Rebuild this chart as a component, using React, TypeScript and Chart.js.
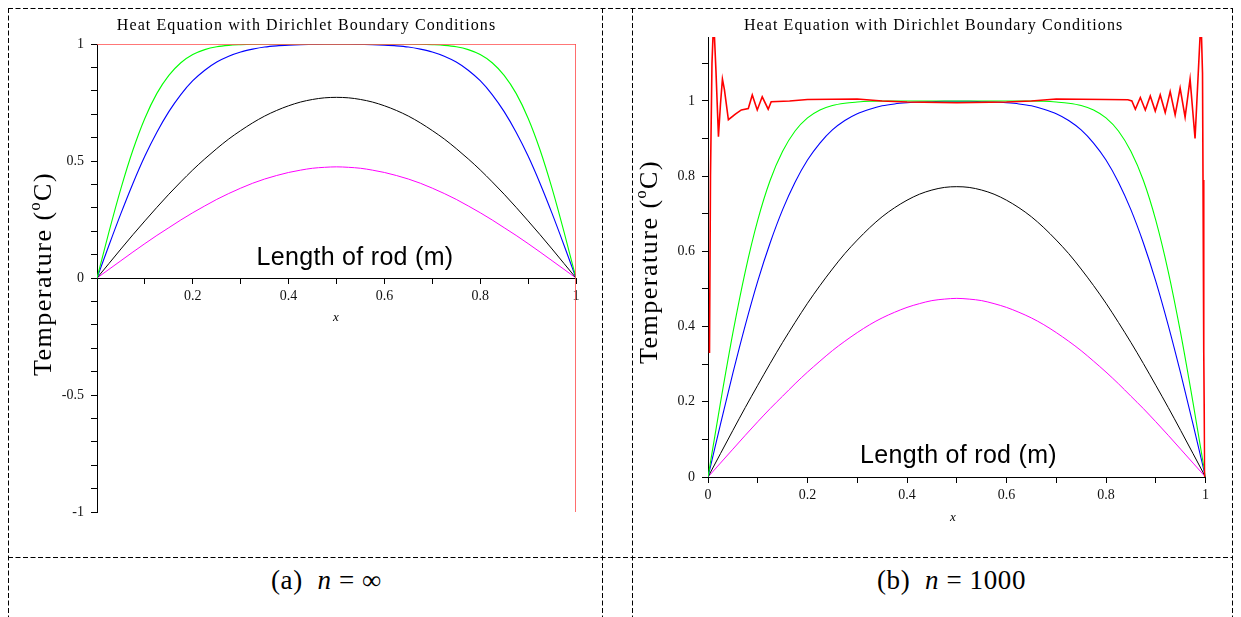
import React, { useEffect, useRef } from "react";
import { Chart, registerables } from "chart.js";

Chart.register(...registerables);

// ---------- data ----------
const TITLE = "Heat Equation with Dirichlet Boundary Conditions";
const Y_TITLE_PARTS = ["Temperature (", "o", "C)"];
const INNER_LABEL = "Length of rod (m)";
const X_AXIS_LABEL = "x";

const X_GRID = [
  0, 0.025, 0.05, 0.075, 0.1, 0.125, 0.15, 0.175, 0.2, 0.225, 0.25, 0.275, 0.3, 0.325, 0.35, 0.375, 0.4,
  0.425, 0.45, 0.475, 0.5, 0.525, 0.55, 0.575, 0.6, 0.625, 0.65, 0.675, 0.7, 0.725, 0.75, 0.775, 0.8,
  0.825, 0.85, 0.875, 0.9, 0.925, 0.95, 0.975, 1,
];
const GREEN_T = [
  0, 0.197, 0.383, 0.547, 0.683, 0.789, 0.866, 0.92, 0.955, 0.976, 0.988, 0.994, 0.997, 0.999,
  1, 1, 1, 1, 1, 1, 1, 1, 1, 1, 1, 1, 1,
  0.999, 0.997, 0.994, 0.988, 0.976, 0.955, 0.92, 0.866, 0.789, 0.683, 0.547, 0.383, 0.197, 0,
];
const BLUE_T = [
  0, 0.14, 0.276, 0.404, 0.521, 0.623, 0.711, 0.784, 0.843, 0.888, 0.923, 0.948, 0.966, 0.978, 0.987,
  0.992, 0.995, 0.997, 0.998, 0.999, 0.999, 0.999, 0.998, 0.997, 0.995, 0.992, 0.987, 0.978, 0.966,
  0.948, 0.923, 0.888, 0.843, 0.784, 0.711, 0.623, 0.521, 0.404, 0.276, 0.14, 0,
];
const BLACK_T = [
  0, 0.062, 0.124, 0.185, 0.244, 0.302, 0.358, 0.411, 0.462, 0.509, 0.553, 0.594, 0.63, 0.663, 0.692,
  0.716, 0.736, 0.752, 0.763, 0.77, 0.772, 0.77, 0.763, 0.752, 0.736, 0.716, 0.692, 0.663, 0.63, 0.594,
  0.553, 0.509, 0.462, 0.411, 0.358, 0.302, 0.244, 0.185, 0.124, 0.062, 0,
];
const MAGENTA_T = [
  0, 0.037, 0.074, 0.111, 0.147, 0.182, 0.215, 0.248, 0.279, 0.308, 0.336, 0.361, 0.384, 0.405, 0.423,
  0.438, 0.451, 0.461, 0.469, 0.473, 0.475, 0.473, 0.469, 0.461, 0.451, 0.438, 0.423, 0.405, 0.384,
  0.361, 0.336, 0.308, 0.279, 0.248, 0.215, 0.182, 0.147, 0.111, 0.074, 0.037, 0,
];

// initial condition, n = infinity
const RED_INF_X = [0, 1, 1];
const RED_INF_Y = [1, 1, -1];

// initial condition, n = 1000 (as plotted)
const RED_N1000_X = [
  0.003, 0.005, 0.008, 0.01, 0.013, 0.016, 0.021, 0.025, 0.029, 0.033, 0.041, 0.055, 0.067, 0.081, 0.089,
  0.099, 0.109, 0.121, 0.127, 0.164, 0.2, 0.3, 0.35, 0.4, 0.5, 0.6, 0.65, 0.7, 0.8, 0.844, 0.852, 0.859,
  0.869, 0.879, 0.889, 0.899, 0.909, 0.919, 0.929, 0.939, 0.949, 0.959, 0.969, 0.979, 0.989, 0.992,
  0.994, 0.995, 0.9965, 0.9985,
];
const RED_N1000_Y = [
  0.33, 0.8, 1.1, 1.17, 1.17, 1.08, 0.905, 0.99, 1.058, 1.03, 0.95, 0.965, 0.976, 0.98, 1.016, 0.976,
  1.011, 0.978, 0.998, 1.0, 1.004, 1.005, 1.0, 0.997, 0.995, 0.997, 1.0, 1.005, 1.004, 1.003, 1.0, 0.978,
  1.009, 0.976, 1.013, 0.973, 1.016, 0.969, 1.025, 0.963, 1.034, 0.957, 1.058, 0.9, 1.17, 1.17, 1.074,
  0.79, 0.333, 0,
];

const X_TICKS = [0, 0.1, 0.2, 0.3, 0.4, 0.5, 0.6, 0.7, 0.8, 0.9, 1];
const X_LABELS_A = [0.2, 0.4, 0.6, 0.8, 1];
const X_LABELS_B = [0, 0.2, 0.4, 0.6, 0.8, 1];
const Y_TICKS_A = [
  -1, -0.9, -0.8, -0.7, -0.6, -0.5, -0.4, -0.3, -0.2, -0.1, 0, 0.1, 0.2, 0.3, 0.4, 0.5, 0.6, 0.7, 0.8,
  0.9, 1,
];
const Y_LABELS_A = [-1, -0.5, 0, 0.5, 1];
const Y_TICKS_B = [0, 0.1, 0.2, 0.3, 0.4, 0.5, 0.6, 0.7, 0.8, 0.9, 1, 1.1];
const Y_LABELS_B = [0, 0.2, 0.4, 0.6, 0.8, 1];

// ---------- helpers ----------
const zip = (xs: number[], ys: number[]) => xs.map((x, i) => ({ x, y: ys[i] }));
const labelFor = (v: number, labels: number[]) => {
  const hit = labels.find((l) => Math.abs(l - v) < 1e-6);
  return hit === undefined ? "" : String(hit);
};

const SERIF = '"Liberation Serif", "Times New Roman", serif';
const SANS = '"Liberation Sans", Arial, sans-serif';

const decorPlugin = {
  id: "decor",
  afterDraw(chart: any, _args: any, o: any) {
    const ctx = chart.ctx as CanvasRenderingContext2D;
    ctx.save();
    ctx.fillStyle = "#000";
    // title
    ctx.font = `16px ${SERIF}`;
    (ctx as any).letterSpacing = "1.1px";
    ctx.textAlign = "center";
    ctx.textBaseline = "alphabetic";
    ctx.fillText(TITLE, o.titleX, o.titleY);
    // y title (rotated, with raised small o)
    const f = 26;
    (ctx as any).letterSpacing = "1.5px";
    ctx.textAlign = "left";
    ctx.textBaseline = "middle";
    const fonts = [`${f}px ${SERIF}`, `${Math.round(f * 0.6)}px ${SERIF}`, `${f}px ${SERIF}`];
    const widths = Y_TITLE_PARTS.map((p, i) => {
      ctx.font = fonts[i];
      return ctx.measureText(p).width;
    });
    const total = widths.reduce((a, b) => a + b, 0);
    ctx.save();
    ctx.translate(o.yTitleX, o.yTitleY);
    ctx.rotate(-Math.PI / 2);
    let cx = -total / 2;
    Y_TITLE_PARTS.forEach((p, i) => {
      ctx.font = fonts[i];
      ctx.fillText(p, cx, i === 1 ? -f * 0.32 : 0);
      cx += widths[i];
    });
    ctx.restore();
    // inner label
    (ctx as any).letterSpacing = "0.3px";
    ctx.font = `25px ${SANS}`;
    ctx.textAlign = "center";
    ctx.textBaseline = "alphabetic";
    ctx.fillText(INNER_LABEL, o.innerX, o.innerY);
    // x axis label
    (ctx as any).letterSpacing = "0px";
    ctx.font = `italic 13px ${SERIF}`;
    ctx.textBaseline = "middle";
    ctx.fillText(X_AXIS_LABEL, o.xLabX, o.xLabY);
    ctx.restore();
  },
};

interface PanelCfg {
  left: number;
  top: number;
  width: number;
  height: number;
  padding: { left: number; top: number; right: number; bottom: number };
  yWidth: number;
  ymin: number;
  ymax: number;
  yTicks: number[];
  yLabels: number[];
  xLabels: number[];
  red: { x: number[]; y: number[]; color: string };
  decor: any;
}

function Panel({ cfg }: { cfg: PanelCfg }) {
  const ref = useRef<HTMLCanvasElement>(null);
  useEffect(() => {
    if (!ref.current) return;
    const tickFont = { family: SERIF, size: 14 };
    const chart = new Chart(ref.current, {
      type: "line",
      data: {
        datasets: [
          { data: zip(cfg.red.x, cfg.red.y), borderColor: cfg.red.color, borderWidth: 1.6, pointRadius: 0, tension: 0 },
          { data: zip(X_GRID, GREEN_T), borderColor: "#00ff00", borderWidth: 1.1, pointRadius: 0, cubicInterpolationMode: "monotone" },
          { data: zip(X_GRID, BLUE_T), borderColor: "#0000ff", borderWidth: 1.1, pointRadius: 0, cubicInterpolationMode: "monotone" },
          { data: zip(X_GRID, BLACK_T), borderColor: "#000000", borderWidth: 1, pointRadius: 0, cubicInterpolationMode: "monotone" },
          { data: zip(X_GRID, MAGENTA_T), borderColor: "#ff00ff", borderWidth: 1, pointRadius: 0, cubicInterpolationMode: "monotone" },
        ] as any,
      },
      options: {
        responsive: false,
        animation: false,
        events: [],
        layout: { padding: cfg.padding },
        plugins: {
          legend: { display: false },
          tooltip: { enabled: false },
          title: { display: false },
          decor: cfg.decor,
        } as any,
        scales: {
          x: {
            type: "linear",
            min: 0,
            max: 1,
            position: { y: 0 } as any,
            afterBuildTicks: (s: any) => {
              s.ticks = X_TICKS.map((v) => ({ value: v }));
            },
            ticks: {
              autoSkip: false,
              maxRotation: 0,
              padding: 5,
              color: "#111",
              font: tickFont,
              callback: (v: any) => labelFor(Number(v), cfg.xLabels),
            },
            grid: { display: true, drawOnChartArea: false, drawTicks: true, tickLength: 5, color: "#000", lineWidth: 1 },
            border: { display: true, color: "#000", width: 1 },
          },
          y: {
            type: "linear",
            min: cfg.ymin,
            max: cfg.ymax,
            position: "left",
            afterFit: (s: any) => {
              s.width = cfg.yWidth;
            },
            afterBuildTicks: (s: any) => {
              s.ticks = cfg.yTicks.map((v) => ({ value: v }));
            },
            ticks: {
              autoSkip: false,
              padding: 7,
              color: "#111",
              font: tickFont,
              callback: (v: any) => labelFor(Number(v), cfg.yLabels),
            },
            grid: { display: true, drawOnChartArea: false, drawTicks: true, tickLength: 6, color: "#000", lineWidth: 1 },
            border: { display: true, color: "#000", width: 1 },
          },
        } as any,
      },
      plugins: [decorPlugin as any],
    });
    return () => chart.destroy();
  }, [cfg]);
  return (
    <canvas
      ref={ref}
      width={cfg.width}
      height={cfg.height}
      style={{ position: "absolute", left: cfg.left, top: cfg.top, width: cfg.width, height: cfg.height }}
    />
  );
}

const PANEL_A: PanelCfg = {
  left: 9,
  top: 9,
  width: 593,
  height: 547,
  padding: { left: 0, top: 35, right: 26, bottom: 44 },
  yWidth: 88,
  ymin: -1,
  ymax: 1,
  yTicks: Y_TICKS_A,
  yLabels: Y_LABELS_A,
  xLabels: X_LABELS_A,
  red: { x: RED_INF_X, y: RED_INF_Y, color: "rgb(255,75,75)" },
  decor: { titleX: 297.5, titleY: 21, yTitleX: 35, yTitleY: 265, innerX: 346, innerY: 256, xLabX: 327, xLabY: 309 },
};

const PANEL_B: PanelCfg = {
  left: 633,
  top: 9,
  width: 599,
  height: 547,
  padding: { left: 0, top: 28, right: 26.5, bottom: 79 },
  yWidth: 75,
  ymin: 0,
  ymax: 1.17,
  yTicks: Y_TICKS_B,
  yLabels: Y_LABELS_B,
  xLabels: X_LABELS_B,
  red: { x: RED_N1000_X, y: RED_N1000_Y, color: "#ff0000" },
  decor: { titleX: 300.6, titleY: 21, yTitleX: 17, yTitleY: 253, innerX: 325.5, innerY: 454, xLabX: 320, xLabY: 509 },
};

const CAPTIONS = [
  { label: "(a)", value: "\u221e", left: 271 },
  { label: "(b)", value: "1000", left: 877 },
];

export default function App() {
  const dash = "5 2.5";
  return (
    <div
      style={{
        position: "absolute",
        left: 0,
        top: 0,
        width: 1241,
        height: 617,
        background: "#fff",
        overflow: "hidden",
        fontFamily: SERIF,
      }}
    >
      <svg width={1241} height={617} style={{ position: "absolute", left: 0, top: 0 }}>
        <g stroke="#000" strokeWidth={1} strokeDasharray={dash} fill="none">
          <line x1={8} y1={8.5} x2={1233} y2={8.5} />
          <line x1={8} y1={557.5} x2={1233} y2={557.5} />
          <line x1={8.5} y1={8} x2={8.5} y2={617} />
          <line x1={602.5} y1={8} x2={602.5} y2={617} />
          <line x1={632.5} y1={8} x2={632.5} y2={617} />
          <line x1={1232.5} y1={8} x2={1232.5} y2={617} />
        </g>
      </svg>
      <Panel cfg={PANEL_A} />
      <Panel cfg={PANEL_B} />
      {CAPTIONS.map((c) => (
        <div
          key={c.label}
          style={{
            position: "absolute",
            left: c.left,
            top: 563,
            fontSize: 27,
            lineHeight: "34px",
            whiteSpace: "pre",
            letterSpacing: "0.6px",
            color: "#000",
          }}
        >
          {c.label + "  "}
          <i>n</i>
          {" = " + c.value}
        </div>
      ))}
    </div>
  );
}
